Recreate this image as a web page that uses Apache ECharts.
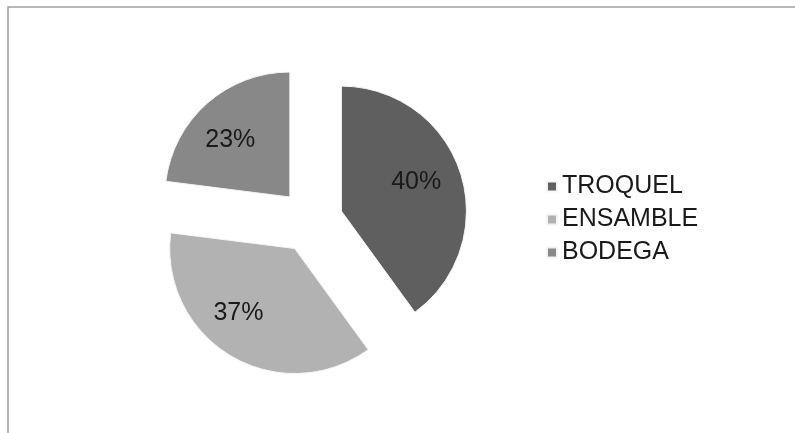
<!DOCTYPE html>
<html>
<head>
<meta charset="utf-8">
<script src="https://cdn.jsdelivr.net/npm/echarts@6/dist/echarts.min.js"></script>
<style>
  html, body { margin: 0; padding: 0; background: #fff; }
  #chart { width: 795px; height: 433px; }
</style>
</head>
<body>
<div id="chart"></div>
<script>
var chartDom = document.getElementById('chart');
var chart = echarts.init(chartDom, null, { renderer: 'canvas' });

// departments and their share
var categories = ['TROQUEL', 'ENSAMBLE', 'BODEGA'];
var values = [40, 37, 23];
var colors = ['#5f5f5f', '#b2b2b2', '#888888'];

var pieData = categories.map(function (name, i) {
    return { name: name, value: values[i], selected: true, itemStyle: { color: colors[i] } };
});

// transparent copy of the pie, only used to put the % labels a bit further out
var labelData = categories.map(function (name, i) {
    return { name: name, value: values[i], selected: true };
});

// small nudges so the labels sit where the original put them
var labelNudge = [[-8, -2], [-12, -10], [-2, 8]];

var option = {
    animation: false,
    graphic: [{
        type: 'rect',
        shape: { x: 8, y: 7, width: 820, height: 460 },
        style: { fill: 'none', stroke: '#a0a0a0', lineWidth: 1.5 },
        silent: true
    }],
    legend: {
        orient: 'vertical',
        left: 541,
        top: 169,
        itemWidth: 10,
        itemHeight: 10,
        itemGap: 8,
        icon: 'rect',
        data: categories,
        selectedMode: false,
        textStyle: { fontFamily: 'Liberation Sans', fontSize: 25, color: '#1a1a1a' }
    },
    series: [{
        type: 'pie',
        center: [311, 221],
        radius: [0, 125],
        startAngle: 90,
        clockwise: true,
        selectedMode: 'multiple',
        selectedOffset: 32,
        data: pieData,
        label: { show: false },
        labelLine: { show: false },
        itemStyle: { borderColor: '#f4f4f4', borderWidth: 1 },
        emphasis: { disabled: true }
    }, {
        type: 'pie',
        center: [311, 221],
        radius: [43, 125],
        startAngle: 90,
        clockwise: true,
        selectedMode: 'multiple',
        selectedOffset: 32,
        silent: true,
        data: labelData,
        itemStyle: { color: 'rgba(0,0,0,0)' },
        label: {
            show: true,
            position: 'inside',
            formatter: '{d}%',
            fontFamily: 'Liberation Sans',
            fontSize: 25,
            color: '#1a1a1a'
        },
        labelLayout: function (params) {
            var n = labelNudge[params.dataIndex];
            return { dx: n[0], dy: n[1] };
        },
        labelLine: { show: false },
        emphasis: { disabled: true }
    }]
};

chart.setOption(option);
window.addEventListener('resize', function () {
    chart.resize();
});
</script>
</body>
</html>
